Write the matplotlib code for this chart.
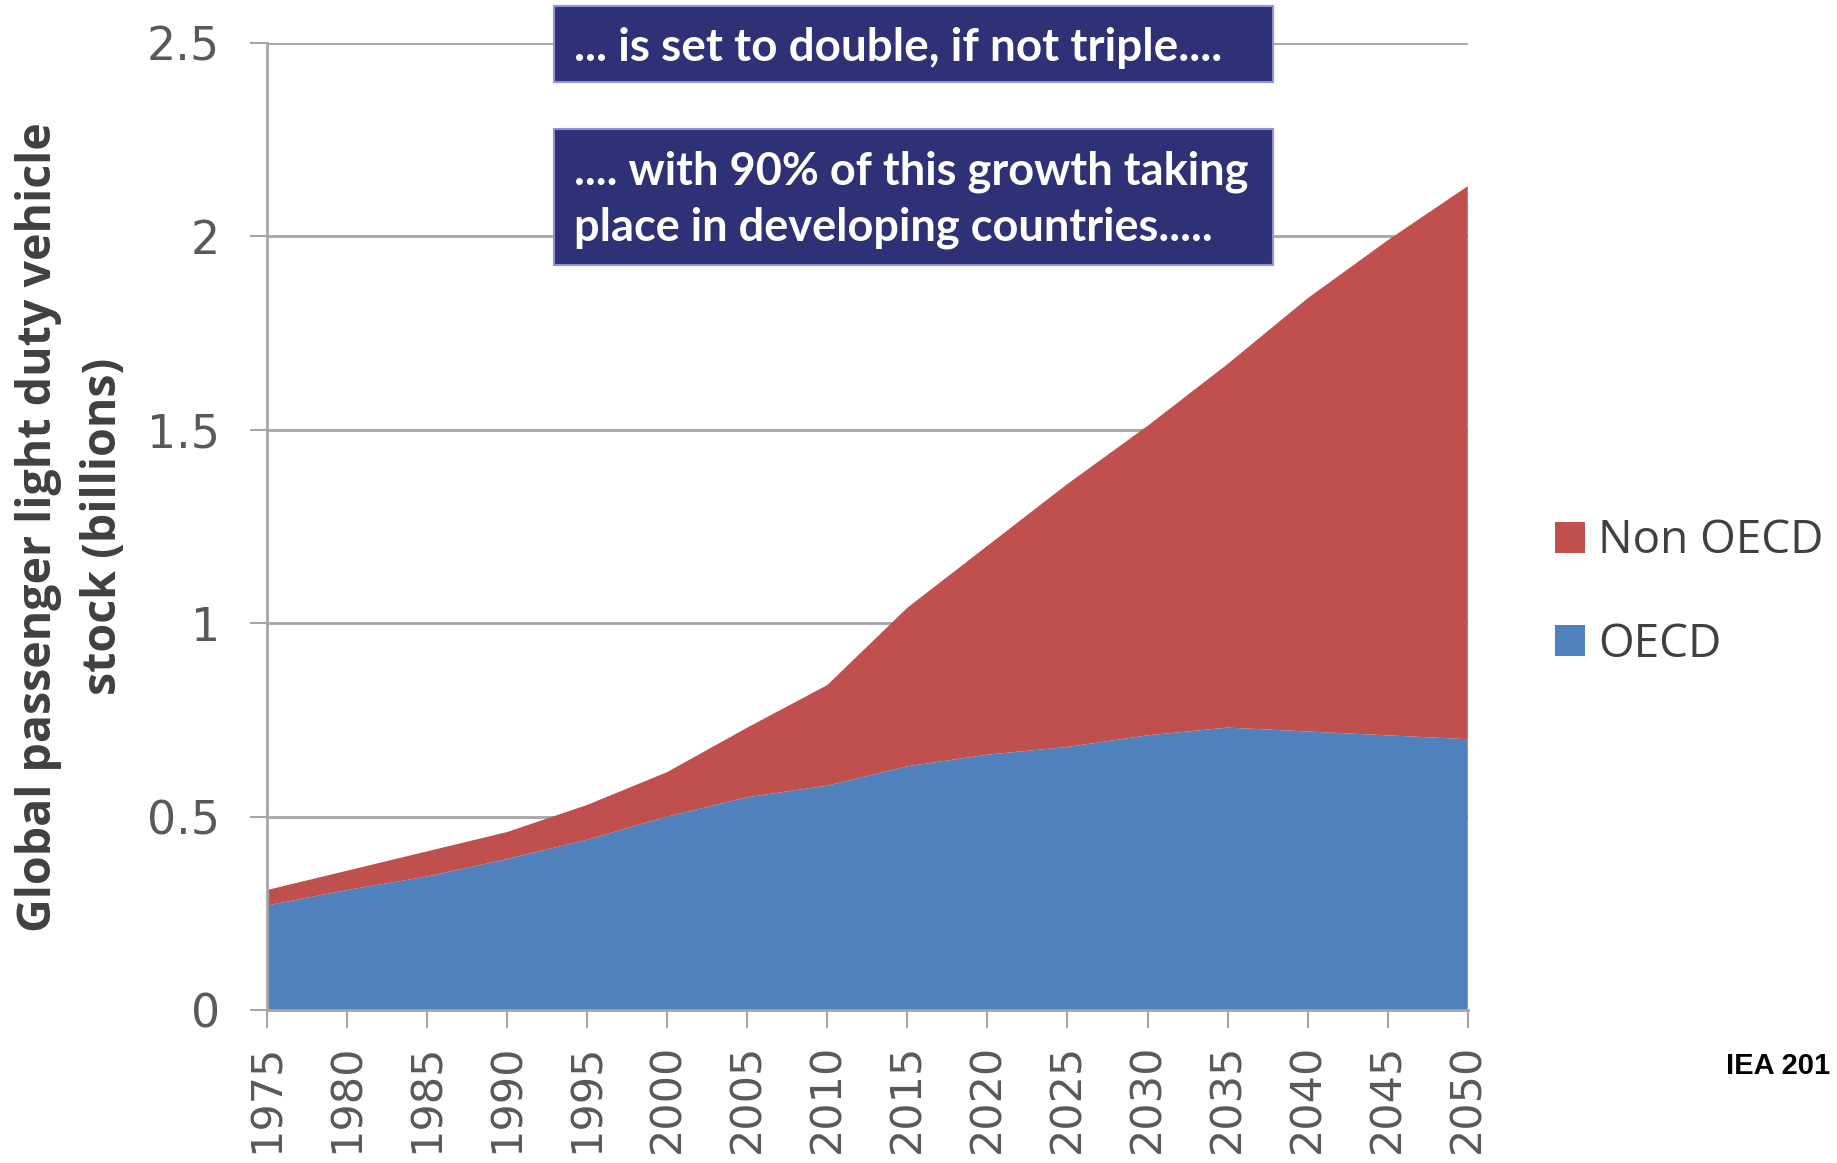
import matplotlib

matplotlib.use("Agg")
import matplotlib.pyplot as plt
from matplotlib.patches import Patch, Rectangle

# Global passenger light duty vehicle stock (billions)
years = [1975, 1980, 1985, 1990, 1995, 2000, 2005, 2010,
         2015, 2020, 2025, 2030, 2035, 2040, 2045, 2050]
oecd = [0.27, 0.31, 0.345, 0.39, 0.44, 0.50, 0.55, 0.58,
        0.63, 0.66, 0.68, 0.71, 0.73, 0.72, 0.71, 0.70]
non_oecd = [0.04, 0.05, 0.065, 0.07, 0.09, 0.115, 0.18, 0.26,
            0.41, 0.54, 0.68, 0.80, 0.94, 1.12, 1.28, 1.43]
series_names = ["OECD", "Non OECD"]
y_ticks = [0, 0.5, 1, 1.5, 2, 2.5]
y_tick_labels = ["0", "0.5", "1", "1.5", "2", "2.5"]

box_top_text = "... is set to double, if not triple...."
box_bottom_text = ".... with 90% of this growth taking\nplace in developing countries....."
source_text = "IEA 201"

BLUE = "#4F81BD"
RED = "#C0504D"
GRID = "#A6A6A6"
TICK_TEXT = "#595959"
BOX_FILL = "#2E3176"
BOX_EDGE = "#8C92DC"

fig = plt.figure(figsize=(18.37, 11.63), dpi=100)
ax = fig.add_axes([0.1453, 0.1316, 0.799 - 0.1453, 0.963 - 0.1316])

ax.stackplot(years, oecd, non_oecd, colors=[BLUE, RED], labels=series_names, zorder=2)

ax.set_xlim(years[0], years[-1])
ax.set_ylim(0, 2.5)
ax.set_xticks(years)
ax.set_xticklabels([str(y) for y in years], rotation=90, family="DejaVu Sans",
                   fontsize=31, color=TICK_TEXT)
ax.set_yticks(y_ticks)
ax.set_yticklabels(y_tick_labels, family="DejaVu Sans", fontsize=33, color=TICK_TEXT)
ax.tick_params(axis="x", length=13, width=1.5, color=GRID, pad=11)
ax.tick_params(axis="y", length=12, width=1.5, color=GRID, pad=22)
ax.grid(True, axis="y", color=GRID, linewidth=2, zorder=0)
ax.set_axisbelow(True)
for side in ["top", "right"]:
    ax.spines[side].set_visible(False)
for side in ["left", "bottom"]:
    ax.spines[side].set_color(GRID)
    ax.spines[side].set_linewidth(2)
    ax.spines[side].set_zorder(3)

fig.text(0.0385, 0.547, "Global passenger light duty vehicle\nstock (billions)",
         rotation=90, ha="center", va="center", fontsize=33.5, fontweight="bold",
         family=["Liberation Sans Narrow", "Open Sans"], color="#404040",
         linespacing=1.5, multialignment="center")

handles = [Patch(facecolor=RED), Patch(facecolor=BLUE)]
fig.legend(handles, ["Non OECD", "OECD"], loc="center left",
           bbox_to_anchor=(0.824, 0.49), frameon=False,
           prop={"family": "Open Sans", "size": 33}, labelcolor="#404040",
           handlelength=0.65, handleheight=0.65, handletextpad=0.3, labelspacing=1.25)

# annotation boxes over the top of the chart
for (x0, y0, w, h) in [(0.3016, 0.9295, 0.3914, 0.0653), (0.3016, 0.7721, 0.3914, 0.1169)]:
    fig.add_artist(Rectangle((x0, y0), w, h, transform=fig.transFigure,
                             facecolor=BOX_FILL, edgecolor=BOX_EDGE, linewidth=1.5, zorder=5))
fig.text(0.3125, 0.959, box_top_text, ha="left", va="center", color="white",
         fontsize=33, fontweight="bold", family="Lato", zorder=6)
fig.text(0.3125, 0.828, box_bottom_text, ha="left", va="center", color="white",
         fontsize=32.5, fontweight="bold", family="Lato", linespacing=1.4, zorder=6)

fig.text(0.9396, 0.0835, source_text, ha="left", va="center", color="black",
         fontsize=21, fontweight="bold", family="Liberation Sans")

fig.savefig("out.png", dpi=100)
